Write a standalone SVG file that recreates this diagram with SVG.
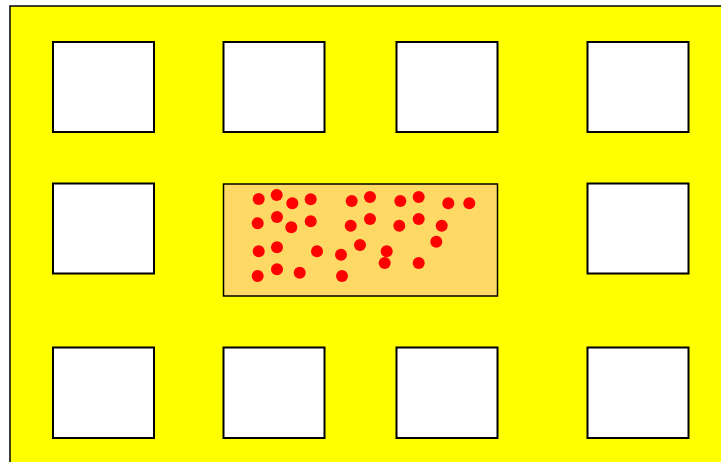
<svg xmlns="http://www.w3.org/2000/svg" width="721" height="462" viewBox="0 0 721 462">
<style>
.sq{fill:#ffffff;stroke:#000000;stroke-width:2}
.dot{fill:#ff0000}
</style>
<rect width="721" height="462" fill="#ffffff"/>
<g id="floor"><rect x="10" y="6" width="730" height="470" fill="#ffff00" stroke="#000000" stroke-width="1.5"/></g>
<g id="r1c1"><rect class="sq" x="53" y="42" width="101" height="90"/></g>
<g id="r1c2"><rect class="sq" x="223.5" y="42" width="101" height="90"/></g>
<g id="r1c3"><rect class="sq" x="396.5" y="42" width="101" height="90"/></g>
<g id="r1c4"><rect class="sq" x="587.5" y="42" width="101" height="90"/></g>
<g id="r2c1"><rect class="sq" x="53" y="183.5" width="101" height="90"/></g>
<g id="r2c4"><rect class="sq" x="587.5" y="183.5" width="101" height="90"/></g>
<g id="r3c1"><rect class="sq" x="53" y="347.5" width="101" height="90.5"/></g>
<g id="r3c2"><rect class="sq" x="223.5" y="347.5" width="101" height="90.5"/></g>
<g id="r3c3"><rect class="sq" x="396.5" y="347.5" width="101" height="90.5"/></g>
<g id="r3c4"><rect class="sq" x="587.5" y="347.5" width="101" height="90.5"/></g>
<g id="crowd">
<rect x="223.5" y="184" width="274" height="112" fill="#ffd966" stroke="#000000" stroke-width="1.5"/>
<circle class="dot" cx="258.7" cy="199" r="6"/>
<circle class="dot" cx="276.7" cy="195" r="6"/>
<circle class="dot" cx="292.3" cy="203.3" r="6"/>
<circle class="dot" cx="310.7" cy="199.3" r="6"/>
<circle class="dot" cx="351.7" cy="201" r="6"/>
<circle class="dot" cx="370" cy="197" r="6"/>
<circle class="dot" cx="400.3" cy="201" r="6"/>
<circle class="dot" cx="418.7" cy="197" r="6"/>
<circle class="dot" cx="448.3" cy="203.3" r="6"/>
<circle class="dot" cx="469.3" cy="203.3" r="6"/>
<circle class="dot" cx="257.7" cy="223.3" r="6"/>
<circle class="dot" cx="277" cy="217" r="6"/>
<circle class="dot" cx="291.3" cy="227.3" r="6"/>
<circle class="dot" cx="310.7" cy="221.3" r="6"/>
<circle class="dot" cx="350.7" cy="225.7" r="6"/>
<circle class="dot" cx="370" cy="219" r="6"/>
<circle class="dot" cx="399.3" cy="225.7" r="6"/>
<circle class="dot" cx="418.7" cy="219" r="6"/>
<circle class="dot" cx="441.7" cy="225.7" r="6"/>
<circle class="dot" cx="258.7" cy="251.3" r="6"/>
<circle class="dot" cx="277" cy="247.3" r="6"/>
<circle class="dot" cx="317" cy="251.3" r="6"/>
<circle class="dot" cx="341" cy="254.7" r="6"/>
<circle class="dot" cx="360" cy="245" r="6"/>
<circle class="dot" cx="386.7" cy="251.3" r="6"/>
<circle class="dot" cx="436.3" cy="241.7" r="6"/>
<circle class="dot" cx="384.7" cy="263" r="6"/>
<circle class="dot" cx="418.7" cy="263" r="6"/>
<circle class="dot" cx="257.7" cy="276" r="6"/>
<circle class="dot" cx="277" cy="269.3" r="6"/>
<circle class="dot" cx="299.7" cy="272.7" r="6"/>
<circle class="dot" cx="342" cy="276" r="6"/>
</g>
</svg>
